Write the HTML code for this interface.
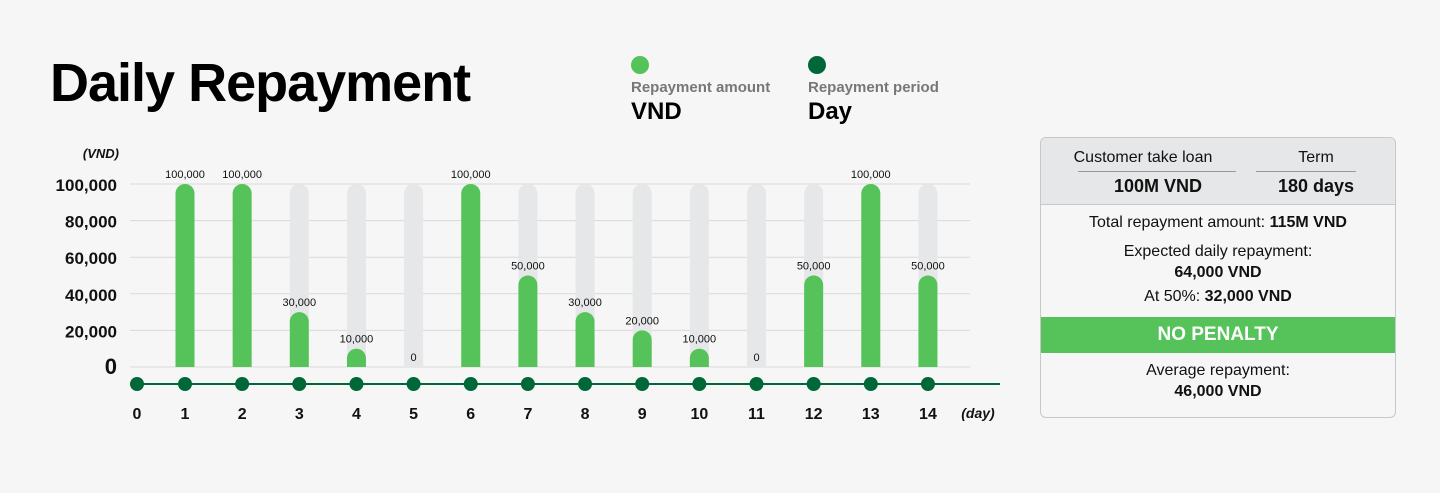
<!DOCTYPE html>
<html><head><meta charset="utf-8">
<style>
body{margin:0;width:1440px;height:493px;background:#f6f6f6;font-family:"Liberation Sans",sans-serif;position:relative;overflow:hidden}
.abs{position:absolute}
#title{left:50px;top:52px;font-size:54px;font-weight:bold;color:#000;letter-spacing:-1px}
.leg{font-size:15px;font-weight:bold;color:#777}
.legv{font-size:24px;font-weight:bold;color:#000}
#panel{left:1040px;top:137px;width:354px;height:279px;border:1px solid #c8c8c8;border-radius:6px;background:#f6f6f6;overflow:hidden}
.c{text-align:center;font-size:16px;color:#111}
</style></head><body>
<div id="title" class="abs">Daily Repayment</div>
<div class="abs" style="left:631px;top:56px;width:18px;height:18px;border-radius:50%;background:#55c35a"></div>
<div class="abs leg" style="left:631px;top:79px">Repayment amount</div>
<div class="abs legv" style="left:631px;top:98px">VND</div>
<div class="abs" style="left:808px;top:56px;width:18px;height:18px;border-radius:50%;background:#006838"></div>
<div class="abs leg" style="left:808px;top:79px">Repayment period</div>
<div class="abs legv" style="left:808px;top:98px">Day</div>

<svg class="abs" style="left:0;top:0" width="1030" height="493" id="chart"></svg>

<div id="panel" class="abs">
 <div style="height:66px;background:#e6e7e8;border-bottom:1px solid #c8c8c8;position:relative">
  <div class="abs c" style="left:22px;width:160px;top:11px;font-size:16px">Customer take loan</div>
  <div class="abs" style="left:37px;width:158px;top:33px;border-top:1px solid #999"></div>
  <div class="abs c" style="left:22px;width:190px;top:38px;font-weight:bold;font-size:18px">100M VND</div>
  <div class="abs c" style="left:215px;width:120px;top:11px">Term</div>
  <div class="abs" style="left:215px;width:100px;top:33px;border-top:1px solid #999"></div>
  <div class="abs c" style="left:205px;width:140px;top:38px;font-weight:bold;font-size:18px">180 days</div>
 </div>
 <div class="c" style="margin-top:9px">Total repayment amount: <b>115M VND</b></div>
 <div class="c" style="margin-top:9px;line-height:21px">Expected daily repayment:<br><b>64,000 VND</b></div>
 <div class="c" style="margin-top:5px">At 50%: <b>32,000 VND</b></div>
 <div class="c" style="margin-top:11px;height:36px;line-height:36px;background:#55c35a;color:#fff;font-weight:bold;font-size:19px">NO PENALTY</div>
 <div class="c" style="margin-top:7px;line-height:21px">Average repayment:<br><b>46,000 VND</b></div>
</div>

<script>
const days=[1,2,3,4,5,6,7,8,9,10,11,12,13,14];
const values=[100000,100000,30000,10000,0,100000,50000,30000,20000,10000,0,50000,100000,50000];
const valueLabels=["100,000","100,000","30,000","10,000","0","100,000","50,000","30,000","20,000","10,000","0","50,000","100,000","50,000"];
const yTicks=[0,20000,40000,60000,80000,100000];
const yTickLabels=["0","20,000","40,000","60,000","80,000","100,000"];
const axisDays=[0,1,2,3,4,5,6,7,8,9,10,11,12,13,14];
const NS="http://www.w3.org/2000/svg";
const svg=document.getElementById('chart');
const y=v=>367-v/100000*183;
const x=d=>d===0?137:185+(d-1)*57.15;
function mk(t,a){const e=document.createElementNS(NS,t);for(const k in a)e.setAttribute(k,a[k]);svg.appendChild(e);return e;}
yTicks.forEach((t,i)=>{
 const l=mk('line',{x1:130,x2:970,y1:y(t),y2:y(t),stroke:'#d9d9d9','stroke-width':1});
 
 
 const tx=mk('text',{x:117,y:y(t)+7,'text-anchor':'end','font-size':t===0?22:17,'font-weight':'bold',fill:'#111','font-family':'Liberation Sans'});
 tx.textContent=yTickLabels[i];
 
 
});
const yt=mk('text',{x:119,y:158,'text-anchor':'end','font-size':13,'font-weight':'bold','font-style':'italic',fill:'#111'});
yt.textContent='(VND)';


const w=19;
days.forEach((d,i)=>{
 const cx=x(d);
 const bg=mk('path',{d:`M${cx-w/2},${y(0)} V${y(100000)+w/2} A${w/2},${w/2} 0 0 1 ${cx+w/2},${y(100000)+w/2} V${y(0)} Z`,fill:'#e6e7e8'});
 
 
 const v=values[i];
 if(v>0){
  const top=y(v);const r=Math.min(w/2,(y(0)-top));
  const b=mk('path',{d:`M${cx-w/2},${y(0)} V${top+r} A${w/2},${r} 0 0 1 ${cx+w/2},${top+r} V${y(0)} Z`,fill:'#55c35a'});
  
  
 }
 const t=mk('text',{x:cx,y:y(v)-6,'text-anchor':'middle','font-size':11,fill:'#111'});
 t.textContent=valueLabels[i];
 
 
});
const ax=mk('line',{x1:132,x2:1000,y1:384,y2:384,stroke:'#006838','stroke-width':2});


axisDays.forEach(d=>{
 const c=mk('circle',{cx:x(d),cy:384,r:7,fill:'#006838'});
 
 
 const t=mk('text',{x:x(d),y:419,'text-anchor':'middle','font-size':16,'font-weight':'bold',fill:'#111'});
 t.textContent=d;
 
 
});
const xt=mk('text',{x:978,y:418,'text-anchor':'middle','font-size':14,'font-weight':'bold','font-style':'italic',fill:'#111'});
xt.textContent='(day)';


</script>
</body></html>
